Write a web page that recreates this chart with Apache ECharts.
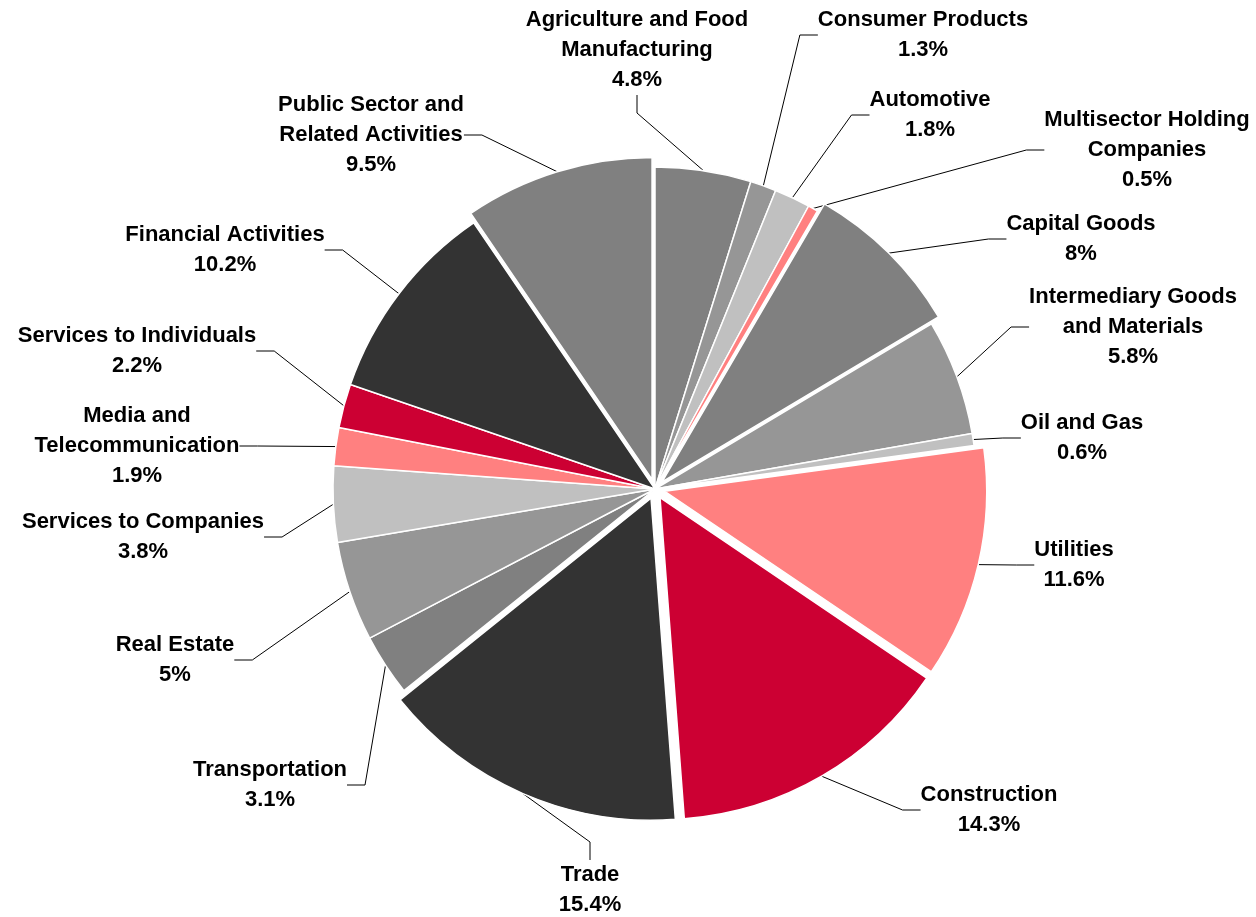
<!DOCTYPE html>
<html>
<head>
<meta charset="utf-8">
<script src="https://cdn.jsdelivr.net/npm/echarts@6/dist/echarts.min.js"></script>
<style>
  html, body { margin: 0; padding: 0; background: #fff; }
  #main { width: 1256px; height: 917px; }
</style>
</head>
<body>
<div id="main"></div>
<script>
// sectors, clockwise from 12 o'clock
var sectors = [
  'Agriculture and Food\nManufacturing',
  'Consumer Products',
  'Automotive',
  'Multisector Holding\nCompanies',
  'Capital Goods',
  'Intermediary Goods\nand Materials',
  'Oil and Gas',
  'Utilities',
  'Construction',
  'Trade',
  'Transportation',
  'Real Estate',
  'Services to Companies',
  'Media and\nTelecommunication',
  'Services to Individuals',
  'Financial Activities',
  'Public Sector and\nRelated Activities'
];
var shares = [4.8, 1.3, 1.8, 0.5, 8, 5.8, 0.6, 11.6, 14.3, 15.4, 3.1, 5, 3.8, 1.9, 2.2, 10.2, 9.5];

// styling
var sliceColors = [
  '#808080', '#969696', '#c0c0c0', '#ff8080', '#808080', '#969696', '#c0c0c0',
  '#ff8080', '#cc0033', '#333333', '#808080', '#969696', '#c0c0c0', '#ff8080',
  '#cc0033', '#333333', '#808080'
];
var explodedIdx = [4, 7, 8, 9, 16];   // slices pulled out of the pie
var explodeBy = 10;
var pieCenter = [655, 489];
// label block centres (px)
var labelPos = [
  [637, 50], [923, 35], [930, 115], [1147, 150], [1081, 239], [1133, 327],
  [1082, 438], [1074, 565], [989, 810], [590, 890], [270, 785], [175, 660],
  [143, 537], [137, 446], [137, 351], [225, 250], [371, 135]
];

var myChart = echarts.init(document.getElementById('main'));

var total = shares.reduce(function (a, b) { return a + b; }, 0);

// one pie series; only the slices for which visible(i) is true are drawn
function pieSeries(visible, center) {
  return {
    type: 'pie',
    center: center,
    radius: 322,
    startAngle: 90,
    clockwise: true,
    silent: true,
    avoidLabelOverlap: false,
    itemStyle: { borderColor: '#fff', borderWidth: 1.5 },
    emphasis: { disabled: true },
    label: {
      show: true,
      position: 'outside',
      formatter: '{b}\n{c}%',
      color: '#000',
      fontFamily: '"Liberation Sans", Arial, sans-serif',
      fontWeight: 'bold',
      fontSize: 22,
      lineHeight: 30,
      align: 'center'
    },
    labelLine: {
      show: true,
      length: 10,
      length2: 18,
      lineStyle: { color: '#000', width: 1 }
    },
    labelLayout: function (p) {
      var pos = labelPos[p.dataIndex];
      return { x: pos[0], y: pos[1], align: 'center', verticalAlign: 'middle' };
    },
    data: sectors.map(function (name, i) {
      var on = visible(i);
      return {
        name: name,
        value: shares[i],
        itemStyle: on ? { color: sliceColors[i] } : { opacity: 0, borderWidth: 0 },
        label: { show: on },
        labelLine: { show: on }
      };
    })
  };
}

var series = [pieSeries(function (i) { return explodedIdx.indexOf(i) < 0; }, pieCenter)];

// exploded slices: same pie, centre pushed out along the slice's middle angle
explodedIdx.forEach(function (k) {
  var before = 0;
  for (var i = 0; i < k; i++) before += shares[i];
  var mid = (before + shares[k] / 2) / total;
  var ang = (90 - 360 * mid) * Math.PI / 180;
  var c = [pieCenter[0] + explodeBy * Math.cos(ang), pieCenter[1] - explodeBy * Math.sin(ang)];
  series.push(pieSeries(function (i) { return i === k; }, c));
});

myChart.setOption({
  animation: false,
  backgroundColor: '#fff',
  series: series
});
</script>
</body>
</html>
